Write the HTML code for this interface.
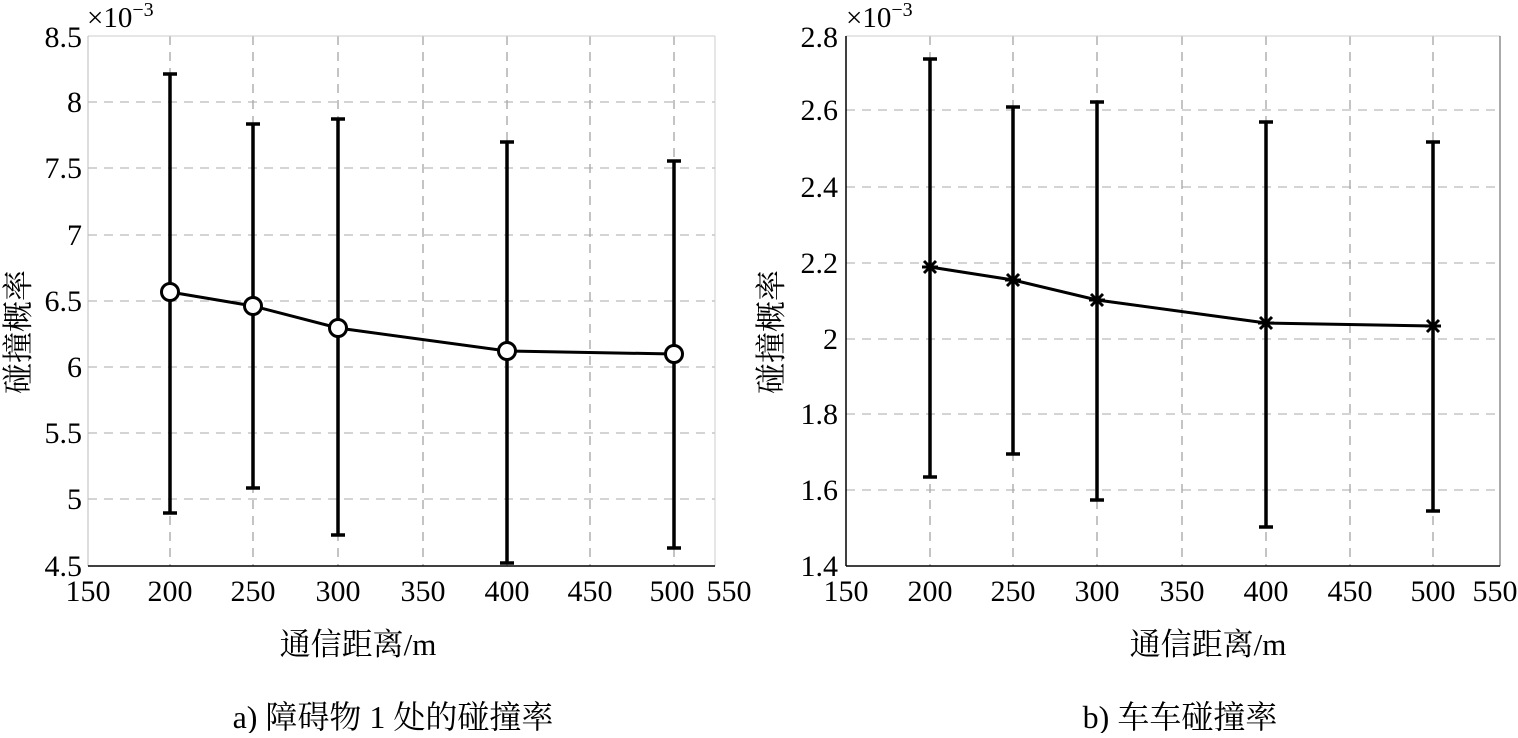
<!DOCTYPE html>
<html><head><meta charset="utf-8"><style>
html,body{margin:0;padding:0;background:#fff}
svg text{font-family:"Liberation Serif","Noto Serif CJK SC",serif;fill:#000}
</style></head><body>
<svg width="1518" height="733" viewBox="0 0 1518 733" xmlns="http://www.w3.org/2000/svg">
<!-- LEFT PLOT -->
<g stroke="#888" stroke-width="1" stroke-dasharray="9,7">
<line x1="170" y1="36" x2="170" y2="566"/><line x1="253" y1="36" x2="253" y2="566"/><line x1="338" y1="36" x2="338" y2="566"/><line x1="423" y1="36" x2="423" y2="566"/><line x1="507" y1="36" x2="507" y2="566"/><line x1="590" y1="36" x2="590" y2="566"/><line x1="674" y1="36" x2="674" y2="566"/>
</g>
<g stroke="#aaa" stroke-width="1" stroke-dasharray="9,7">
<line x1="88" y1="102" x2="715" y2="102"/><line x1="88" y1="168" x2="715" y2="168"/><line x1="88" y1="235" x2="715" y2="235"/><line x1="88" y1="301" x2="715" y2="301"/><line x1="88" y1="367" x2="715" y2="367"/><line x1="88" y1="433" x2="715" y2="433"/><line x1="88" y1="499" x2="715" y2="499"/>
</g>
<line x1="88" y1="36" x2="715" y2="36" stroke="#ccc"/>
<line x1="715" y1="36" x2="715" y2="566" stroke="#ccc"/>
<line x1="88" y1="36" x2="88" y2="566" stroke="#bbb"/>
<line x1="88" y1="566" x2="715" y2="566" stroke="#000" stroke-width="1.5"/>
<g stroke="#000" stroke-width="3.5" fill="none">
<path d="M170 74V513M163 74h14M163 513h14"/>
<path d="M253 124V488M246 124h14M246 488h14"/>
<path d="M338 119V535M331 119h14M331 535h14"/>
<path d="M507 142V563M500 142h14M500 563h14"/>
<path d="M674 161V548M667 161h14M667 548h14"/>
<polyline points="170,292 253,306 338,328 507,351 674,354" stroke-width="3"/>
</g>
<g stroke="#000" stroke-width="3" fill="#fff">
<circle cx="170" cy="292" r="8.5"/><circle cx="253" cy="306" r="8.5"/><circle cx="338" cy="328" r="8.5"/><circle cx="507" cy="351" r="8.5"/><circle cx="674" cy="354" r="8.5"/>
</g>
<g font-size="30" text-anchor="end">
<text x="82" y="47">8.5</text><text x="82" y="112">8</text><text x="82" y="178">7.5</text><text x="82" y="245">7</text><text x="82" y="311">6.5</text><text x="82" y="377">6</text><text x="82" y="443">5.5</text><text x="82" y="509">5</text><text x="82" y="576">4.5</text>
</g>
<text x="87" y="27" font-size="29">×10<tspan font-size="20" dy="-11">−3</tspan></text>
<g font-size="30" text-anchor="middle">
<text x="88" y="601">150</text><text x="170" y="601">200</text><text x="253" y="601">250</text><text x="338" y="601">300</text><text x="423" y="601">350</text><text x="507" y="601">400</text><text x="590" y="601">450</text><text x="672" y="601">500</text><text x="729" y="601">550</text>
</g>
<text x="358" y="655" font-size="31" text-anchor="middle">通信距离/m</text>
<text transform="translate(29,332) rotate(-90)" font-size="31" text-anchor="middle">碰撞概率</text>
<text x="393" y="728" font-size="32" text-anchor="middle">a) 障碍物 1 处的碰撞率</text>

<!-- RIGHT PLOT -->
<g stroke="#888" stroke-width="1" stroke-dasharray="9,7">
<line x1="930" y1="36" x2="930" y2="566"/><line x1="1013" y1="36" x2="1013" y2="566"/><line x1="1097" y1="36" x2="1097" y2="566"/><line x1="1182" y1="36" x2="1182" y2="566"/><line x1="1266" y1="36" x2="1266" y2="566"/><line x1="1350" y1="36" x2="1350" y2="566"/><line x1="1433" y1="36" x2="1433" y2="566"/>
</g>
<g stroke="#aaa" stroke-width="1" stroke-dasharray="9,7">
<line x1="846" y1="110" x2="1500" y2="110"/><line x1="846" y1="187" x2="1500" y2="187"/><line x1="846" y1="263" x2="1500" y2="263"/><line x1="846" y1="339" x2="1500" y2="339"/><line x1="846" y1="414" x2="1500" y2="414"/><line x1="846" y1="490" x2="1500" y2="490"/>
</g>
<line x1="846" y1="36" x2="1500" y2="36" stroke="#ccc"/>
<line x1="1500" y1="36" x2="1500" y2="566" stroke="#555"/>
<line x1="846" y1="36" x2="846" y2="566" stroke="#000" stroke-width="1.5"/>
<line x1="846" y1="566" x2="1500" y2="566" stroke="#000" stroke-width="1.5"/>
<g stroke="#000" stroke-width="3.5" fill="none">
<path d="M930 59V477M923 59h14M923 477h14"/>
<path d="M1013 107V454M1006 107h14M1006 454h14"/>
<path d="M1097 102V500M1090 102h14M1090 500h14"/>
<path d="M1266 122V527M1259 122h14M1259 527h14"/>
<path d="M1433 142V511M1426 142h14M1426 511h14"/>
<polyline points="930,267 1013,280 1097,300 1266,323 1433,326" stroke-width="3"/>
</g>
<g stroke="#000" stroke-width="3">
<path d="M922 267h16M930 259v16M924 261l12 12M936 261l-12 12"/>
<path d="M1005 280h16M1013 272v16M1007 274l12 12M1019 274l-12 12"/>
<path d="M1089 300h16M1097 292v16M1091 294l12 12M1103 294l-12 12"/>
<path d="M1258 323h16M1266 315v16M1260 317l12 12M1272 317l-12 12"/>
<path d="M1425 326h16M1433 318v16M1427 320l12 12M1439 320l-12 12"/>
</g>
<g font-size="30" text-anchor="end">
<text x="838" y="47">2.8</text><text x="838" y="120">2.6</text><text x="838" y="197">2.4</text><text x="838" y="273">2.2</text><text x="838" y="349">2</text><text x="838" y="424">1.8</text><text x="838" y="500">1.6</text><text x="838" y="576">1.4</text>
</g>
<text x="846" y="27" font-size="29">×10<tspan font-size="20" dy="-11">−3</tspan></text>
<g font-size="30" text-anchor="middle">
<text x="846" y="601">150</text><text x="930" y="601">200</text><text x="1013" y="601">250</text><text x="1097" y="601">300</text><text x="1182" y="601">350</text><text x="1266" y="601">400</text><text x="1350" y="601">450</text><text x="1433" y="601">500</text><text x="1495" y="601">550</text>
</g>
<text x="1208" y="655" font-size="31" text-anchor="middle">通信距离/m</text>
<text transform="translate(782,332) rotate(-90)" font-size="31" text-anchor="middle">碰撞概率</text>
<text x="1180" y="728" font-size="32" text-anchor="middle">b) 车车碰撞率</text>
</svg>
</body></html>
